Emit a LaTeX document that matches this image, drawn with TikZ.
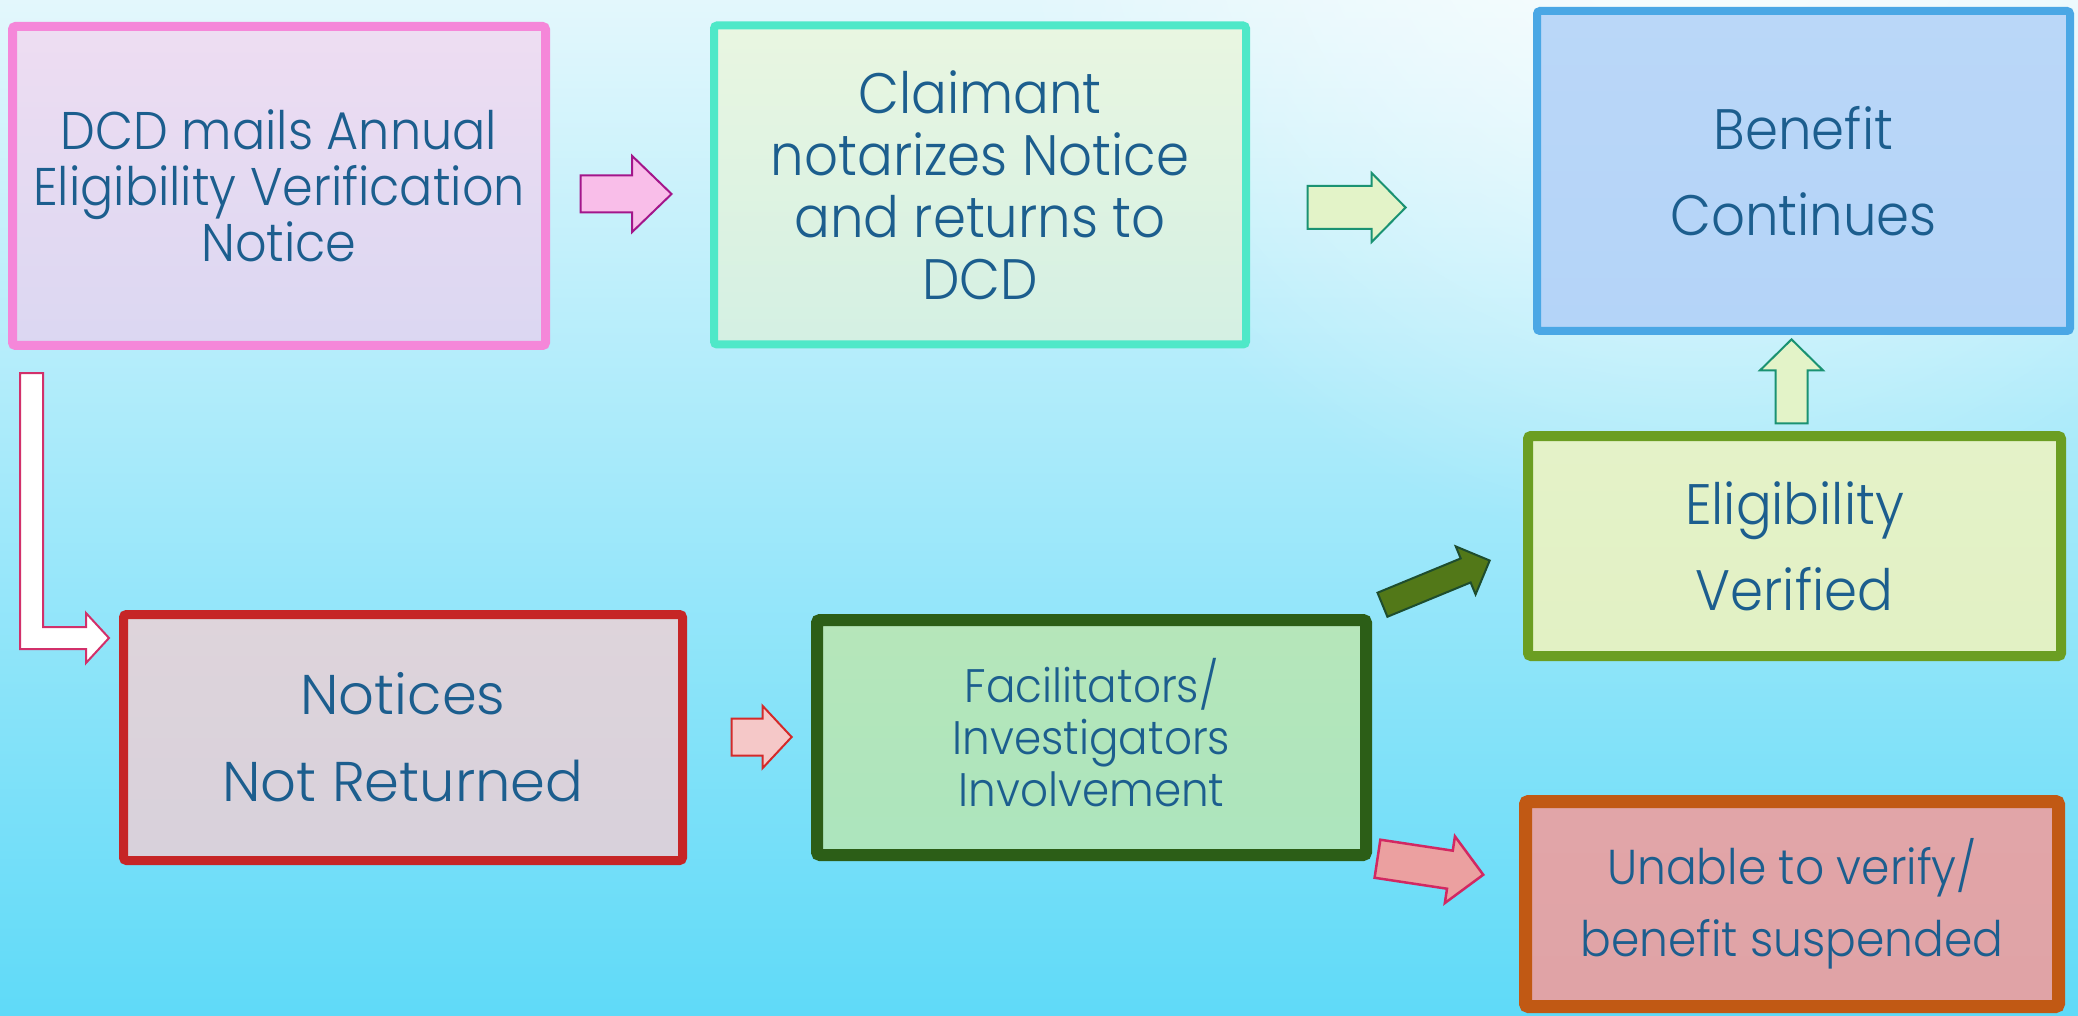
\documentclass[tikz,border=0pt]{standalone}
\usepackage{fontspec}
\setmainfont{Poppins Light}[FakeStretch=0.93]
\newfontfamily\widefam{Poppins Light}
\usetikzlibrary{shapes.arrows,fadings}
\tikzfading[name=glowfade, inner color=transparent!0, outer color=transparent!100]
\definecolor{txt}{HTML}{1C5E8E}
\definecolor{bgtop}{HTML}{E3F7FC}
\definecolor{bgmid}{HTML}{A9ECFB}
\definecolor{bgbot}{HTML}{5FDAF8}
\definecolor{bAd}{HTML}{F587D9}\definecolor{bAt}{HTML}{EEDDF2}\definecolor{bAb}{HTML}{DBD7F2}
\definecolor{bBd}{HTML}{4FE8C8}\definecolor{bBt}{HTML}{E9F6E1}\definecolor{bBb}{HTML}{D4F0E3}
\definecolor{bCd}{HTML}{4AA7E5}\definecolor{bCt}{HTML}{BAD7F8}\definecolor{bCb}{HTML}{B4D4F8}
\definecolor{bDd}{HTML}{6B9E22}\definecolor{bDt}{HTML}{E4F2C8}\definecolor{bDb}{HTML}{E2F1C4}
\definecolor{bEd}{HTML}{C62526}\definecolor{bEt}{HTML}{DED4DB}\definecolor{bEb}{HTML}{D8D1DB}
\definecolor{bFd}{HTML}{2C5E17}\definecolor{bFt}{HTML}{B6E6BA}\definecolor{bFb}{HTML}{ACE5BD}
\definecolor{bGd}{HTML}{C15914}\definecolor{bGt}{HTML}{E1A5A8}\definecolor{bGb}{HTML}{E0A3A6}
\definecolor{aAf}{HTML}{F9BEE9}\definecolor{aAd}{HTML}{A3168A}
\definecolor{aBf}{HTML}{E3F3C8}\definecolor{aBd}{HTML}{1A9272}
\definecolor{aCf}{HTML}{F5C8C8}\definecolor{aCd}{HTML}{D42A2A}
\definecolor{aDf}{HTML}{527818}\definecolor{aDd}{HTML}{1E4D2E}
\definecolor{aEf}{HTML}{EBA0A0}\definecolor{aEd}{HTML}{D22862}
\definecolor{aLd}{HTML}{D2306A}
\begin{document}
\begin{tikzpicture}[x=1pt,y=-1pt,
  box/.style={rectangle, rounded corners=3pt, inner sep=0pt, align=center, text=txt},
  barrow/.style n args={4}{single arrow, inner xsep=0pt, inner ysep=#1/2,
     single arrow head extend=(#2-#1)/2, minimum height=#3,
     single arrow tip angle=#4, minimum width=0pt, line join=miter, anchor=tip},
]
\useasboundingbox (0,0) rectangle (2078,1016);
% background
\shade[top color=bgtop, middle color=bgmid, bottom color=bgbot] (0,0) rectangle (2078,1016);
\fill[white, path fading=glowfade, opacity=0.85] (1700,-150) circle (700);

% boxes
\node[box, draw=bAd, line width=9pt, top color=bAt, bottom color=bAb,
  minimum width=533pt, minimum height=319pt, font=\fontsize{53}{56}\selectfont]
  (b1) at (279,186) {DCD mails Annual\\Eligibility Verification\\Notice};
\node[box, draw=bBd, line width=8pt, top color=bBt, bottom color=bBb,
  minimum width=532pt, minimum height=319pt, font=\fontsize{57}{62}\selectfont]
  (b2) at (980,185) {Claimant\\notarizes Notice\\and returns to\\DCD};
\node[box, draw=bCd, line width=8pt, top color=bCt, bottom color=bCb,
  minimum width=533pt, minimum height=320pt, font=\fontsize{57}{86}\selectfont]
  (b3) at (1803.5,171) {Benefit\\Continues};
\node[box, draw=bDd, line width=10pt, top color=bDt, bottom color=bDb,
  minimum width=533pt, minimum height=220pt, font=\fontsize{57}{86}\selectfont]
  (b4) at (1794.5,546) {Eligibility\\Verified};
\node[box, draw=bEd, line width=9pt, top color=bEt, bottom color=bEb,
  minimum width=559pt, minimum height=246pt, font=\widefam\fontsize{56}{87}\selectfont]
  (b5) at (403,737.5) {Notices\\Not Returned};
\node[box, draw=bFd, line width=12pt, top color=bFt, bottom color=bFb,
  minimum width=549pt, minimum height=235pt, font=\fontsize{47}{52}\selectfont,
  text depth=11pt]
  (b6) at (1091.5,737.5) {Facilitators/\\Investigators\\Involvement};
\node[box, draw=bGd, line width=13pt, top color=bGt, bottom color=bGb,
  minimum width=533pt, minimum height=205pt, font=\fontsize{49}{72}\selectfont]
  (b7) at (1792,904) {Unable to verify/\\benefit suspended};

% block arrows
\node[barrow={35}{74}{91}{88}, fill=aAf, draw=aAd, line width=2pt] (a1) at (673,194) {};
\node[barrow={41}{67}{98}{91}, fill=aBf, draw=aBd, line width=2pt] (a2) at (1407,207.5) {};
\node[barrow={30}{61}{84}{91}, fill=aBf, draw=aBd, line width=2pt, rotate=90] (a3) at (1791.5,338) {};
\node[barrow={35}{60}{60}{94}, fill=aCf, draw=aCd, line width=2pt] (a4) at (793,737) {};
\node[barrow={24}{50}{116}{90}, fill=aDf, draw=aDd, line width=2pt, rotate=22.4] (a5) at (1491,560) {};
\node[barrow={36}{65}{107}{90}, fill=aEf, draw=aEd, line width=2.5pt, rotate=-8.6] (a6) at (1485,875) {};

% L-shaped arrow
\coordinate (ltail) at (20,373);
\coordinate (ltip) at (109,638);
\draw[fill=white, draw=aLd, line width=2pt, line join=miter]
  (ltail) -- (43,373) -- (43,627) -- (86,627) -- (86,613) -- (ltip)
  -- (86,663) -- (86,649) -- (20,649) -- cycle;
\end{tikzpicture}
\end{document}
